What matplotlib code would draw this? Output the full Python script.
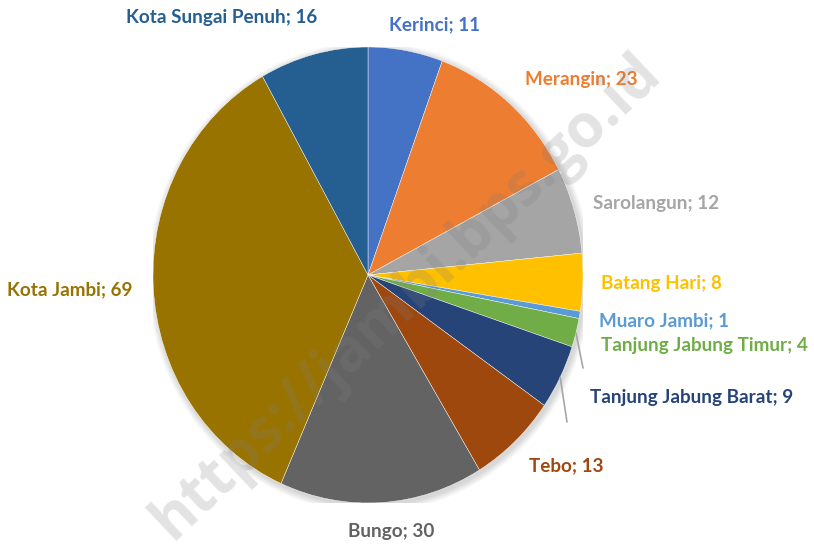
import matplotlib
matplotlib.use("Agg")
import matplotlib.pyplot as plt
import numpy as np
from matplotlib.patches import Ellipse

categories = ["Kerinci", "Merangin", "Sarolangun", "Batang Hari", "Muaro Jambi",
              "Tanjung Jabung Timur", "Tanjung Jabung Barat", "Tebo", "Bungo",
              "Kota Jambi", "Kota Sungai Penuh"]
values = [11, 23, 12, 8, 1, 4, 9, 13, 30, 69, 16]

colors = ["#4472C4", "#ED7D31", "#A5A5A5", "#FFC000", "#5B9BD5", "#70AD47",
          "#264478", "#9E480E", "#636363", "#997300", "#255E91"]

# layout: label centres in figure pixels (from top-left)
label_px = [(435, 25), (581, 80), (656, 203), (661, 284), (664, 321), (704, 345),
            (692, 398), (566, 466), (391, 531), (70, 290), (222, 17)]
# leader line end points (figure pixels, from top-left) for the slices that have them
leaders = {"Tanjung Jabung Timur": (583, 368), "Tanjung Jabung Barat": (567, 422)}

W, H = 814, 545
fig = plt.figure(figsize=(W / 100, H / 100), dpi=100)
cx, cy, rx, ry = 368, 275, 215, 228
ax = fig.add_axes([(cx - rx) / W, (H - cy - ry) / H, 2 * rx / W, 2 * ry / H])

# soft shadow
shadow_ax = fig.add_axes(ax.get_position(), zorder=-1)
shadow_ax.set_xlim(-1, 1); shadow_ax.set_ylim(-1, 1); shadow_ax.axis("off")
for i in range(8):
    s = 1.0 + 0.004 * (i + 1)
    shadow_ax.add_patch(Ellipse((0.008, -0.01), 2 * s, 2 * s, color="black",
                                alpha=0.018, lw=0))

wedges, _ = ax.pie(values, colors=colors, startangle=90, counterclock=False,
                   radius=1, wedgeprops=dict(edgecolor="white", linewidth=0.3))
ax.set_aspect("auto")
ax.set_xlim(-1, 1)
ax.set_ylim(-1, 1)

plt.rcParams["font.family"] = ["Lato", "DejaVu Sans"]
for cat, val, col, (px, py) in zip(categories, values, colors, label_px):
    fig.text(px / W, 1 - py / H, f"{cat}; {val}", color=col, fontsize=13.6,
             fontweight="bold", ha="center", va="center", family=["Lato", "DejaVu Sans"])

for w, cat in zip(wedges, categories):
    if cat in leaders:
        ang = np.deg2rad((w.theta1 + w.theta2) / 2)
        x0, y0 = np.cos(ang), np.sin(ang)
        ex, ey = leaders[cat]
        ax.annotate("", xy=(x0, y0), xycoords="data",
                    xytext=(ex, H - ey), textcoords="figure pixels",
                    arrowprops=dict(arrowstyle="-", color="#A6A6A6", lw=1.2,
                                    shrinkA=0, shrinkB=0))

# watermark
fig.text(407 / W, 1 - 297 / H, "https://jambi.bps.go.id", rotation=43.5, fontsize=43,
         fontweight="bold", color="#7f7f7f", alpha=0.22, ha="center", va="center",
         family=["Open Sans", "DejaVu Sans"], zorder=10)

fig.savefig("out.png", dpi=100)
